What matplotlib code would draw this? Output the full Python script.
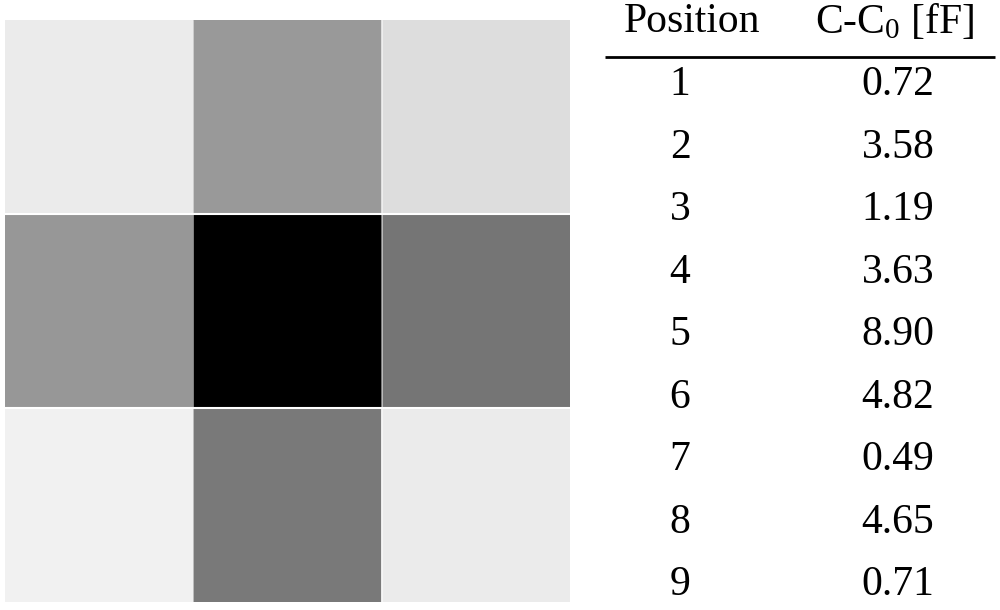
import numpy as np
import matplotlib
matplotlib.use("Agg")
from matplotlib import pyplot as plt

plt.rcParams['font.family'] = ['Liberation Serif', 'DejaVu Serif']
plt.rcParams['mathtext.fontset'] = 'custom'
plt.rcParams['mathtext.rm'] = 'Liberation Serif'
plt.rcParams['mathtext.it'] = 'Liberation Serif:italic'

positions = [1, 2, 3, 4, 5, 6, 7, 8, 9]
delta_c = [0.72, 3.58, 1.19, 3.63, 8.90, 4.82, 0.49, 4.65, 0.71]
col_labels = ['Position', r'C-C$_\mathregular{0}$ [fF]']

grid = np.array(delta_c).reshape(3, 3)

fig = plt.figure(figsize=(10, 6.1), dpi=100)

# heat map of the 3x3 electrode grid
ax = fig.add_axes([0.005, 8 / 610, 0.565, 582 / 610])
ax.imshow(grid, cmap='gray_r', vmin=0, vmax=max(delta_c), aspect='auto',
          interpolation='nearest')
for b in [0.5, 1.5]:
    ax.axhline(b, color='white', lw=1.5)
    ax.axvline(b, color='white', lw=0.6, alpha=0.6)
ax.set_axis_off()

# table on the right
tx = fig.add_axes([0.6, 0, 0.4, 1])
tx.set_xlim(600, 1000)
tx.set_ylim(610, 0)
tx.set_axis_off()

fs = 30
header_x = [692, 895]
for x, lab in zip(header_x, col_labels):
    tx.text(x, 22, lab, ha='center', va='center', fontsize=fs)
tx.plot([605, 995], [57, 57], color='black', lw=2, solid_capstyle='butt')

y0, dy = 85, 62.5
for i, (p, v) in enumerate(zip(positions, delta_c)):
    y = y0 + i * dy
    tx.text(680, y, str(p), ha='center', va='center', fontsize=fs)
    tx.text(898, y, f'{v:.2f}', ha='center', va='center', fontsize=fs)

fig.savefig('out.png', dpi=100, facecolor='white')
